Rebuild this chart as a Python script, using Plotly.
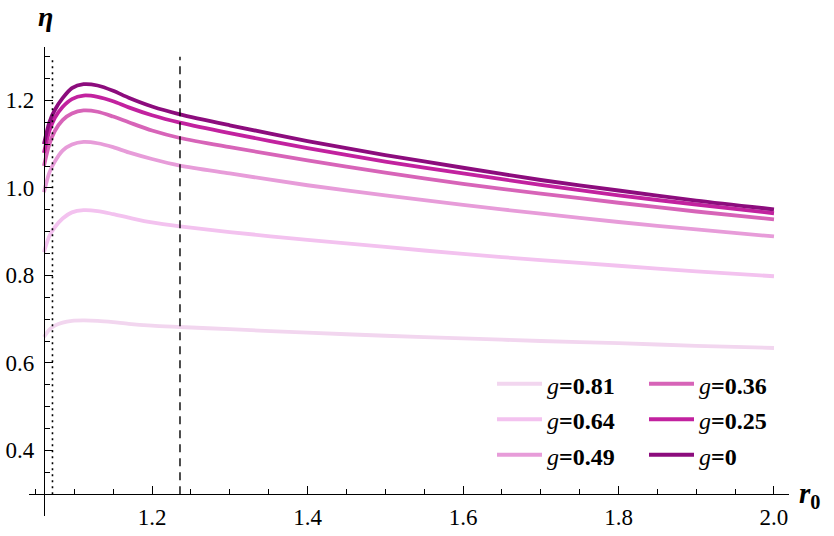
import plotly.graph_objects as go

# r0 sample points
r0 = [1.061, 1.068, 1.075, 1.085, 1.097, 1.112, 1.13, 1.15, 1.17, 1.2, 1.236,
      1.3, 1.4, 1.5, 1.6, 1.7, 1.8, 1.9, 2.0]

eta_g0 = [1.100, 1.150, 1.178, 1.205, 1.228, 1.237, 1.234, 1.222, 1.206, 1.186, 1.168,
          1.143, 1.107, 1.075, 1.046, 1.018, 0.994, 0.971, 0.951]
eta_g025 = [1.080, 1.130, 1.160, 1.185, 1.203, 1.211, 1.208, 1.198, 1.184, 1.166, 1.149,
            1.125, 1.091, 1.060, 1.033, 1.007, 0.983, 0.962, 0.942]
eta_g036 = [1.050, 1.100, 1.130, 1.155, 1.170, 1.177, 1.174, 1.163, 1.150, 1.131, 1.114,
            1.093, 1.063, 1.035, 1.009, 0.987, 0.966, 0.946, 0.928]
eta_g049 = [0.990, 1.035, 1.060, 1.085, 1.099, 1.105, 1.102, 1.093, 1.081, 1.066, 1.051,
            1.033, 1.006, 0.983, 0.961, 0.941, 0.922, 0.905, 0.889]
eta_g064 = [0.853, 0.890, 0.910, 0.930, 0.944, 0.949, 0.947, 0.940, 0.932, 0.921, 0.912,
            0.899, 0.881, 0.865, 0.849, 0.835, 0.822, 0.809, 0.798]
eta_g081 = [0.659, 0.676, 0.685, 0.692, 0.696, 0.697, 0.696, 0.693, 0.689, 0.685, 0.682,
            0.677, 0.669, 0.662, 0.656, 0.650, 0.645, 0.639, 0.634]

g_labels = ['0.81', '0.64', '0.49', '0.36', '0.25', '0']
series = [eta_g081, eta_g064, eta_g049, eta_g036, eta_g025, eta_g0]
colors = ['#F2D6EF', '#F3C2EF', '#E79CD9', '#D764B8', '#C2229F', '#8C0C7D']
legend_col = ['legend', 'legend', 'legend', 'legend2', 'legend2', 'legend2']

# vertical reference lines
vline_dotted = 1.072
vline_dashed = 1.236
vline_span = [0.3, 1.3]

x_range = [1.0418, 2.0193]
y_range = [0.25, 1.322]
x_cross = 1.061   # where the eta axis sits
y_cross = 0.3     # where the r0 axis sits

fig = go.Figure()

for lab, ys, col, lg in zip(g_labels, series, colors, legend_col):
    fig.add_trace(go.Scatter(
        x=r0, y=ys, mode='lines', line=dict(color=col, width=3.8, shape='spline', smoothing=0.8),
        name='<span style="font-size:24px"><i>g</i><b>=' + lab + '</b></span>',
        legend=lg))

fig.add_trace(go.Scatter(x=[vline_dotted, vline_dotted], y=vline_span, mode='lines',
                         line=dict(color='black', width=1.6, dash='2px,4px'), showlegend=False))
fig.add_trace(go.Scatter(x=[vline_dashed, vline_dashed], y=vline_span, mode='lines',
                         line=dict(color='black', width=1.4, dash='8px,6px'), showlegend=False))

serif = 'Liberation Serif, Times New Roman, serif'
axis_font = dict(family=serif, size=23, color='black')
legend_style = dict(yanchor='top', xanchor='left', itemwidth=45, bgcolor='rgba(0,0,0,0)',
                    font=dict(family=serif, size=25, color='black'))

fig.update_layout(
    width=834, height=536,
    margin=dict(l=29, r=45, t=47, b=20, autoexpand=False),
    font=dict(family=serif, color='black'),
    paper_bgcolor='white', plot_bgcolor='white',
    showlegend=True,
    legend=dict(x=(492 - 29) / 760, y=1 - (361 - 47) / 469, **legend_style),
    legend2=dict(x=(644 - 29) / 760, y=1 - (361 - 47) / 469, **legend_style),
    xaxis=dict(range=x_range, showgrid=False, zeroline=False, showline=True,
               linecolor='black', linewidth=1.2, anchor='free',
               position=(y_cross - y_range[0]) / (y_range[1] - y_range[0]),
               ticks='inside', ticklen=8, tickwidth=1.2, tickcolor='black',
               tick0=0, dtick=0.2, tickformat='.1f', tickfont=axis_font, ticklabelstandoff=2,
               minor=dict(ticks='inside', ticklen=5, tickwidth=1, tickcolor='black', dtick=0.05)),
    yaxis=dict(range=y_range, showgrid=False, zeroline=False, showline=True,
               linecolor='black', linewidth=1.2, anchor='free',
               position=(x_cross - x_range[0]) / (x_range[1] - x_range[0]),
               ticks='inside', ticklen=8, tickwidth=1.2, tickcolor='black',
               tick0=0, dtick=0.2, tickformat='.1f', tickfont=axis_font, ticklabelstandoff=5,
               minor=dict(ticks='inside', ticklen=5, tickwidth=1, tickcolor='black', dtick=0.05)),
)

fig.add_annotation(text='<b><i>η</i></b>', xref='paper', yref='paper', x=(45 - 29) / 760,
                   y=1 + (47 - 16) / 469, showarrow=False, xanchor='center', yanchor='middle',
                   font=dict(family=serif, size=28, color='black'))
fig.add_annotation(text='<b><i>r</i><sub>0</sub></b>', xref='paper', yref='paper',
                   x=(797 - 29) / 760, y=(516 - 495) / 469, showarrow=False,
                   xanchor='left', yanchor='middle',
                   font=dict(family=serif, size=29, color='black'))

fig.write_html("out.html", config={'displayModeBar': False},
               post_script="document.body.style.margin='0';")
